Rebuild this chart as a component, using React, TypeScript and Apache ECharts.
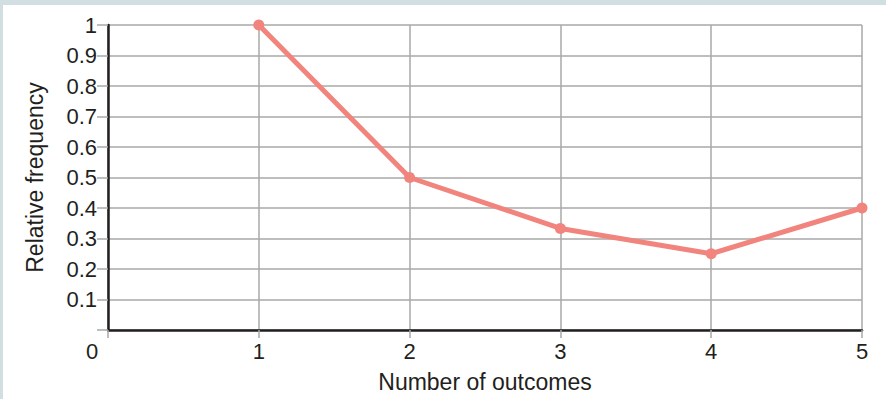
import React, { useEffect, useRef } from "react";
import * as echarts from "echarts";

const xValues = [1, 2, 3, 4, 5];
const relFreq = [1, 0.5, 0.333, 0.25, 0.4];
const xAxisTitle = "Number of outcomes";
const yAxisTitle = "Relative frequency";

const TEXT = "#231f20";
const GRID = "#a9a9a9";
const LINE = "#f2847e";
const FONT = "Liberation Sans";
const TICK_SIZE = 22;
const NAME_SIZE = 23;

export default function App() {
  const ref = useRef<HTMLDivElement>(null);
  useEffect(() => {
    document.body.style.margin = "0";
    const chart = echarts.init(ref.current!, null, { renderer: "svg" });
    chart.setOption({
      animation: false,
      backgroundColor: "#ffffff",
      graphic: [
        { type: "rect", left: 0, top: 0, shape: { width: 886, height: 5 }, style: { fill: "#d2dfe2" }, z: 100 },
        { type: "rect", left: 0, top: 0, shape: { width: 3, height: 399 }, style: { fill: "#d2dfe2" }, z: 100 },
      ],
      grid: { left: 108, right: 24, top: 25, bottom: 69, containLabel: false },
      xAxis: {
        type: "value",
        min: 0,
        max: 5,
        interval: 1,
        name: xAxisTitle,
        nameLocation: "middle",
        nameGap: 40,
        nameTextStyle: { color: TEXT, fontSize: NAME_SIZE, fontFamily: FONT },
        axisLine: { show: true, onZero: false, lineStyle: { color: TEXT, width: 2.5 } },
        axisTick: { show: true, length: 8, lineStyle: { color: GRID, width: 1.5 } },
        splitLine: { show: true, lineStyle: { color: GRID, width: 1.5 } },
        axisLabel: {
          color: TEXT,
          fontSize: TICK_SIZE,
          fontFamily: FONT,
          margin: 10,
          formatter: (v: number) => (v === 0 ? "{z|0}" : String(v)),
          rich: { z: { color: TEXT, fontSize: TICK_SIZE, fontFamily: FONT, padding: [0, 32, 0, 0] } },
        },
      },
      yAxis: {
        type: "value",
        min: 0,
        max: 1,
        interval: 0.1,
        name: yAxisTitle,
        nameLocation: "middle",
        nameGap: 62,
        nameTextStyle: { color: TEXT, fontSize: NAME_SIZE, fontFamily: FONT },
        axisLine: { show: true, onZero: false, lineStyle: { color: TEXT, width: 2.5 } },
        axisTick: { show: true, length: 11, lineStyle: { color: GRID, width: 1.5 } },
        splitLine: { show: true, lineStyle: { color: GRID, width: 1.5 } },
        axisLabel: {
          color: TEXT,
          fontSize: TICK_SIZE,
          fontFamily: FONT,
          margin: 11,
          formatter: (v: number) => (v === 0 ? "" : String(Math.round(v * 10) / 10)),
        },
      },
      series: [
        {
          type: "line",
          data: xValues.map((x, i) => [x, relFreq[i]]),
          symbol: "circle",
          symbolSize: 11,
          lineStyle: { color: LINE, width: 5 },
          itemStyle: { color: LINE },
          z: 10,
        },
      ],
    });
    return () => chart.dispose();
  }, []);
  return <div ref={ref} style={{ width: 886, height: 399 }} />;
}
